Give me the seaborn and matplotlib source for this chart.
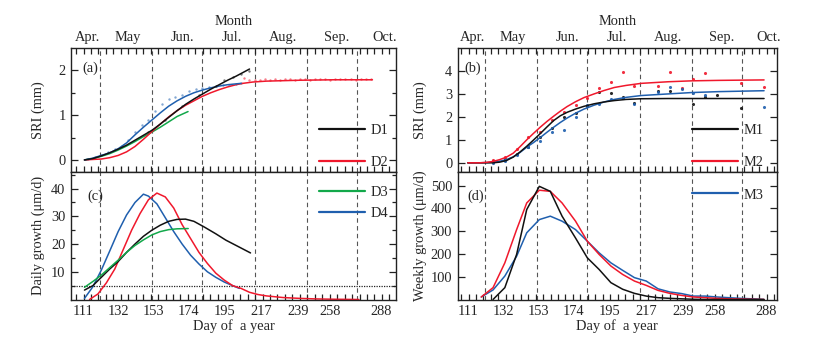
import numpy as np
import pandas as pd
import matplotlib
matplotlib.use("Agg")
import matplotlib.pyplot as plt
import seaborn as sns
from matplotlib.lines import Line2D
from matplotlib.ticker import FixedLocator, NullFormatter

sns.set_theme(style="ticks")
plt.rcParams['font.family'] = ['Liberation Serif', 'DejaVu Serif']
FS = 10.4
plt.rcParams['font.size'] = FS

# ---------------- data ----------------
month_labels = ["Apr.", "May", "Jun.", "Jul.", "Aug.", "Sep.", "Oct."]
month_label_days = [114, 138, 170, 199.5, 230, 262, 290]
month_starts = [121, 152, 182, 213, 244, 274]
day_ticks = [111, 132, 153, 174, 195, 217, 239, 258, 288]

# (a) SRI, daily curves
d1_day = [112, 117, 122, 127, 132, 137, 142, 147, 152, 157, 162, 167, 172, 177, 182, 187, 192, 197, 202, 206, 210]
d1_sri = [0, 0.03, 0.09, 0.16, 0.24, 0.33, 0.44, 0.55, 0.66, 0.8, 0.95, 1.1, 1.24, 1.36, 1.47, 1.58, 1.68, 1.78, 1.87, 1.95, 2.03]
d2_day = [112, 117, 122, 127, 132, 137, 142, 147, 152, 157, 162, 167, 172, 177, 182, 187, 192, 197, 202, 206, 212, 220, 230, 240, 250, 260, 270, 283]
d2_sri = [0, 0.01, 0.02, 0.05, 0.1, 0.18, 0.3, 0.46, 0.63, 0.8, 0.96, 1.1, 1.22, 1.32, 1.42, 1.5, 1.57, 1.63, 1.68, 1.71, 1.74, 1.76, 1.77, 1.78, 1.785, 1.79, 1.79, 1.79]
d3_day = [112, 117, 122, 127, 132, 137, 142, 147, 152, 157, 162, 167, 173.5]
d3_sri = [0, 0.03, 0.08, 0.14, 0.22, 0.31, 0.41, 0.52, 0.62, 0.73, 0.85, 0.97, 1.08]
d4_day = [112, 117, 122, 127, 132, 137, 142, 147, 152, 157, 162, 167, 172, 177, 182, 187, 192, 197, 205]
d4_sri = [0, 0.04, 0.1, 0.16, 0.25, 0.38, 0.56, 0.73, 0.89, 1.05, 1.2, 1.32, 1.42, 1.5, 1.56, 1.61, 1.65, 1.68, 1.71]

# (a) observations (faint dots)
d4_obs_day = [114, 118, 122, 126, 130, 134, 138, 142, 146, 150, 154, 158, 162, 166, 170, 174, 178, 182, 186, 190, 194, 198, 202, 205]
d4_obs_sri = [0.02, 0.06, 0.12, 0.18, 0.24, 0.32, 0.45, 0.62, 0.78, 0.9, 1.1, 1.25, 1.35, 1.4, 1.46, 1.55, 1.58, 1.6, 1.63, 1.65, 1.67, 1.68, 1.7, 1.71]
d1_obs_day = [150, 160, 170, 180, 190, 195, 200, 205, 210]
d1_obs_sri = [0.62, 0.9, 1.2, 1.45, 1.66, 1.78, 1.85, 1.93, 1.98]
d2_obs_day = [207, 210, 213, 216, 219, 222, 225, 228, 231, 234, 237, 240, 243, 246, 249, 252, 255, 258, 261, 264, 267, 270, 273, 276, 279, 282]
d2_obs_sri = [1.82, 1.78, 1.79, 1.79, 1.8, 1.79, 1.8, 1.79, 1.8, 1.8, 1.79, 1.8, 1.8, 1.79, 1.8, 1.8, 1.8, 1.79, 1.8, 1.8, 1.8, 1.8, 1.79, 1.8, 1.8, 1.8]

# (c) daily growth
d1_g_day = [112, 117, 122, 127, 132, 137, 142, 147, 152, 157, 162, 167, 172, 177, 183, 190, 196, 203, 210.6]
d1_g = [3.4, 5, 8, 11, 13.7, 17, 20, 22.8, 25, 26.8, 28.2, 28.9, 29, 28.2, 26.2, 23.7, 21.4, 19.2, 16.8]
d2_g_day = [115, 120, 125, 130, 135, 140, 145, 150, 155, 160, 165, 170, 175, 180, 185, 190, 195, 200, 205, 210, 215, 220, 230, 240, 250, 260, 275]
d2_g = [0, 2, 6, 11, 18, 25, 31, 36, 38.4, 37, 33, 27, 22, 17, 13, 9.5, 7, 5, 4, 2.6, 1.8, 1.3, 0.7, 0.4, 0.2, 0.1, 0]
d3_g_day = [112, 117, 122, 127, 132, 137, 142, 147, 152, 157, 162, 167, 173.6]
d3_g = [4.4, 6.5, 8.8, 11.5, 14.2, 17, 19.5, 21.5, 23.3, 24.5, 25.2, 25.5, 25.6]
d4_g_day = [112, 117, 122, 127, 132, 137, 142, 147, 150, 155, 160, 165, 170, 175, 180, 185, 190, 195, 200, 204]
d4_g = [0.4, 4.6, 10.6, 17.5, 24.5, 30.5, 35, 38, 37.3, 34.5, 29.5, 24.5, 20, 16, 12.8, 10, 8, 6.3, 5, 4]
threshold_c = 4.8

# (b) SRI, monthly-site curves
m_day = [111, 118, 122, 126, 130, 134, 138, 142, 146, 150, 154, 158, 162, 166, 170, 175, 180, 186, 192, 198, 205, 214, 230, 244, 260, 287]
m1_sri = [0, 0, 0, 0, 0.03, 0.1, 0.25, 0.47, 0.72, 0.99, 1.27, 1.56, 1.84, 2.05, 2.2, 2.34, 2.46, 2.57, 2.65, 2.71, 2.76, 2.79, 2.8, 2.8, 2.8, 2.8]
m2_sri = [0, 0, 0.02, 0.06, 0.14, 0.25, 0.42, 0.7, 1.0, 1.28, 1.55, 1.8, 2.03, 2.25, 2.45, 2.66, 2.84, 3.0, 3.15, 3.28, 3.37, 3.46, 3.53, 3.57, 3.59, 3.61]
m3_sri = [0, 0, 0.01, 0.03, 0.07, 0.14, 0.26, 0.45, 0.68, 0.88, 1.1, 1.33, 1.55, 1.76, 1.95, 2.16, 2.34, 2.51, 2.65, 2.76, 2.85, 2.93, 3.0, 3.06, 3.1, 3.14]

# (b) weekly observations
m1_obs_day = [126, 133, 140, 147, 154, 161, 168, 175, 182, 189, 196, 203, 210, 224, 231, 245, 252, 259, 273]
m1_obs = [0.07, 0.15, 0.4, 0.7, 1.13, 1.53, 2.0, 2.16, 2.47, 3.07, 3.03, 2.85, 2.62, 3.14, 3.13, 2.55, 2.88, 2.96, 2.4]
m2_obs_day = [126, 133, 140, 147, 154, 161, 168, 175, 182, 189, 196, 203, 210, 224, 231, 238, 245, 252, 273, 287]
m2_obs = [0.12, 0.26, 0.58, 1.13, 1.33, 1.86, 2.2, 2.52, 2.81, 3.25, 3.54, 3.95, 3.35, 3.35, 3.95, 3.25, 3.64, 3.9, 3.47, 3.28]
m3_obs_day = [126, 133, 140, 147, 154, 161, 168, 175, 182, 189, 196, 203, 210, 224, 231, 238, 245, 252, 287]
m3_obs = [0.0, 0.1, 0.33, 0.7, 0.95, 1.36, 1.43, 2.0, 2.52, 2.55, 2.78, 2.81, 2.55, 3.1, 3.32, 3.2, 3.06, 2.96, 2.42]

# (d) weekly growth
w1_day = [126, 133, 140, 146, 153.5, 160, 167, 175, 182, 189, 196, 203, 210, 217, 224, 231, 238, 245, 252, 259, 266, 273, 280, 287]
w1 = [0, 52, 198, 395, 497, 475, 366, 270, 183, 132, 74, 45, 27, 15, 8, 5, 3, 1, 0, 0, 0, 0, 0, 0]
w_day = [119, 126, 133, 140, 146, 153.5, 160, 167, 175, 182, 189, 196, 203, 210, 217, 224, 231, 238, 245, 252, 259, 266, 273, 280, 287]
w2 = [11, 52, 161, 307, 424, 480, 475, 424, 344, 256, 198, 147, 110, 81, 62, 40, 27, 18, 11, 8, 5, 3, 2, 1, 0]
w3 = [11, 42, 103, 190, 293, 351, 366, 344, 307, 256, 205, 161, 128, 96, 81, 47, 33, 26, 15, 15, 11, 8, 5, 3, 0]

# ---------------- style ----------------
C_BLACK = "#111111"
C_RED = "#f0182c"
C_GREEN = "#12a84a"
C_BLUE = "#1f5fae"
LW = 1.1

W, H = 837, 340
fig = plt.figure(figsize=(W / 100, H / 100), dpi=100)

def fx(px):
    return px / W

def fy(py):
    return 1 - py / H

top_y0, mid_y, bot_y1 = 48, 172, 299.5
axA = fig.add_axes([fx(71), fy(mid_y), fx(396 - 71), (mid_y - top_y0) / H])
axC = fig.add_axes([fx(71), fy(bot_y1), fx(396 - 71), (bot_y1 - mid_y) / H])
axB = fig.add_axes([fx(457.7), fy(mid_y), fx(776.7 - 457.7), (mid_y - top_y0) / H])
axD = fig.add_axes([fx(457.7), fy(bot_y1), fx(776.7 - 457.7), (bot_y1 - mid_y) / H])

minor_x = list(np.arange(107, 297, 4.43))

def style_axis(ax, xlim, ylim, yticks, yminor, show_xlabels, top_ticks, bottom_ticks=True):
    ax.set_xlim(*xlim)
    ax.set_ylim(*ylim)
    for s in ax.spines.values():
        s.set_linewidth(1.0)
        s.set_color("#222222")
        s.set_visible(True)
    ax.xaxis.set_major_locator(FixedLocator(day_ticks))
    ax.xaxis.set_minor_locator(FixedLocator(minor_x))
    ax.tick_params(axis="x", which="major", length=0, pad=4, labelsize=FS)
    ax.tick_params(axis="x", which="minor", direction="in", length=4, width=0.9,
                   top=top_ticks, bottom=bottom_ticks, color="#222222")
    if show_xlabels:
        ax.set_xticklabels([str(d) for d in day_ticks])
    else:
        ax.set_xticklabels([])
    ax.yaxis.set_major_locator(FixedLocator(yticks))
    ax.yaxis.set_minor_locator(FixedLocator(yminor))
    ax.tick_params(axis="y", which="both", direction="in", left=True, right=True,
                   width=0.9, color="#222222", labelsize=FS, pad=4)
    ax.tick_params(axis="y", which="major", length=5)
    ax.tick_params(axis="y", which="minor", length=3)
    ax.yaxis.set_minor_formatter(NullFormatter())
    for d in month_starts:
        ax.axvline(d, color="#555555", lw=0.8, ls=(0, (4, 3)), zorder=0)

def add_months(ax):
    sec = ax.secondary_xaxis("top")
    sec.set_xticks(month_label_days)
    sec.set_xticklabels(month_labels)
    sec.tick_params(axis="x", length=0, pad=3, labelsize=FS)
    sec.spines["top"].set_visible(False)
    sec.set_xlabel("Month", fontsize=FS, labelpad=4)

def line(ax, x, y, color):
    sns.lineplot(x=x, y=y, ax=ax, color=color, lw=LW, estimator=None, sort=False)

def dots(ax, x, y, color, s=3, alpha=0.55):
    sns.scatterplot(x=x, y=y, ax=ax, color=color, s=s, alpha=alpha, linewidth=0, marker="o")

def ylab(ax, text, right_px, left_px, width_px):
    ax.set_ylabel(text, fontsize=FS)
    ax.yaxis.set_label_coords((right_px - left_px) / width_px, 0.5)

# ---------- (a) ----------
style_axis(axA, (104, 297), (-0.27, 2.5), [0, 1, 2], [0.5, 1.5], False, True, True)
dots(axA, d4_obs_day, d4_obs_sri, C_BLUE)
dots(axA, d1_obs_day, d1_obs_sri, C_BLACK)
dots(axA, d2_obs_day, d2_obs_sri, C_RED)
line(axA, d3_day, d3_sri, C_GREEN)
line(axA, d2_day, d2_sri, C_RED)
line(axA, d4_day, d4_sri, C_BLUE)
line(axA, d1_day, d1_sri, C_BLACK)
ylab(axA, "SRI (mm)", 45, 71, 325)
axA.text(0.034, 0.84, "(a)", transform=axA.transAxes, fontsize=FS, va="center")
add_months(axA)
axA.legend(handles=[Line2D([], [], color=C_BLACK, lw=1.6), Line2D([], [], color=C_RED, lw=1.6)],
           labels=["D1", "D2"], loc="center left", bbox_to_anchor=(0.763, 0.206),
           frameon=False, handlelength=3.2, handletextpad=0.4, labelspacing=1.25,
           borderpad=0, borderaxespad=0, fontsize=FS)

# ---------- (c) ----------
style_axis(axC, (104, 297), (0, 46), [10, 20, 30, 40], [5, 15, 25, 35, 45], True, False, True)
axC.axhline(threshold_c, color="#222222", lw=0.9, ls=(0, (1, 1)))
line(axC, d4_g_day, d4_g, C_BLUE)
line(axC, d2_g_day, d2_g, C_RED)
line(axC, d1_g_day, d1_g, C_BLACK)
line(axC, d3_g_day, d3_g, C_GREEN)
ylab(axC, "Daily growth (\u03bcm/d)", 45, 71, 325)
axC.set_xlabel("Day of  a year", fontsize=FS, labelpad=1)
axC.text(0.049, 0.81, "(c)", transform=axC.transAxes, fontsize=FS, va="center")
axC.legend(handles=[Line2D([], [], color=C_GREEN, lw=1.6), Line2D([], [], color=C_BLUE, lw=1.6)],
           labels=["D3", "D4"], loc="center left", bbox_to_anchor=(0.763, 0.757),
           frameon=False, handlelength=3.2, handletextpad=0.4, labelspacing=0.6,
           borderpad=0, borderaxespad=0, fontsize=FS)

# ---------- (b) ----------
style_axis(axB, (105, 294.5), (-0.4, 5.0), [0, 1, 2, 3, 4], [], False, True, True)
line(axB, m_day, m3_sri, C_BLUE)
line(axB, m_day, m1_sri, C_BLACK)
line(axB, m_day, m2_sri, C_RED)
dots(axB, m1_obs_day, m1_obs, C_BLACK, s=5, alpha=0.9)
dots(axB, m2_obs_day, m2_obs, C_RED, s=5, alpha=0.9)
dots(axB, m3_obs_day, m3_obs, C_BLUE, s=5, alpha=0.9)
ylab(axB, "SRI (mm)", 427, 457.7, 319)
axB.text(0.02, 0.84, "(b)", transform=axB.transAxes, fontsize=FS, va="center")
add_months(axB)
axB.legend(handles=[Line2D([], [], color=C_BLACK, lw=1.6), Line2D([], [], color=C_RED, lw=1.6)],
           labels=["M1", "M2"], loc="center left", bbox_to_anchor=(0.733, 0.206),
           frameon=False, handlelength=3.2, handletextpad=0.4, labelspacing=1.25,
           borderpad=0, borderaxespad=0, fontsize=FS)

# ---------- (d) ----------
style_axis(axD, (105, 294.5), (0, 560), [100, 200, 300, 400, 500], [], True, False, True)
line(axD, w_day, w3, C_BLUE)
line(axD, w_day, w2, C_RED)
line(axD, w1_day, w1, C_BLACK)
ylab(axD, "Weekly growth (\u03bcm/d)", 427, 457.7, 319)
axD.set_xlabel("Day of  a year", fontsize=FS, labelpad=1)
axD.text(0.03, 0.806, "(d)", transform=axD.transAxes, fontsize=FS, va="center")
axD.legend(handles=[Line2D([], [], color=C_BLUE, lw=1.6)],
           labels=["M3"], loc="center left", bbox_to_anchor=(0.733, 0.82),
           frameon=False, handlelength=3.2, handletextpad=0.4,
           borderpad=0, borderaxespad=0, fontsize=FS)

fig.savefig("out.png", dpi=100)
